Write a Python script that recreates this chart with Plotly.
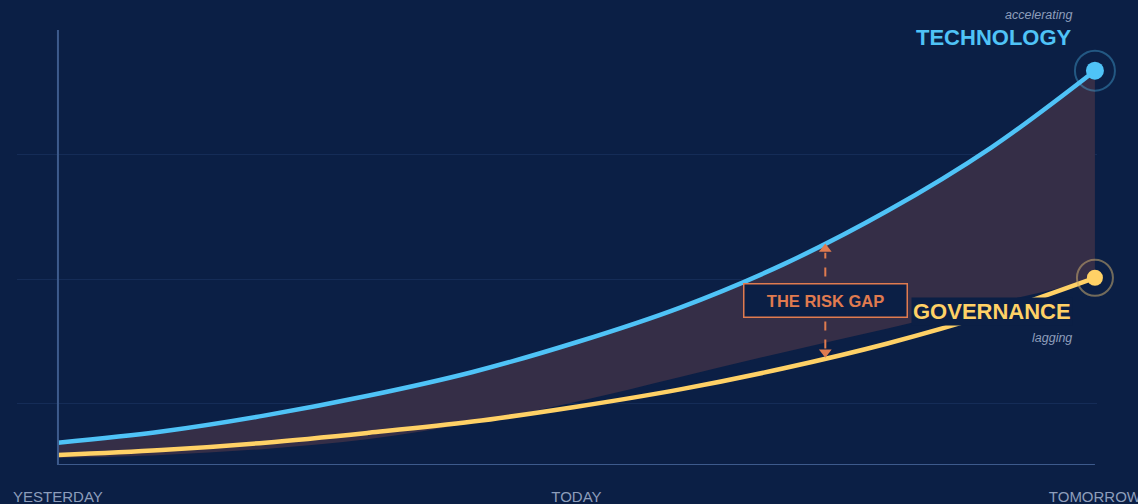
import numpy as np
import plotly.graph_objects as go

# ---- data ----
x_steps = [0, 1, 2, 3, 4, 5, 6, 7, 8, 9, 10]
technology = [1.8, 2.7, 4.0, 5.6, 7.5, 9.9, 12.7, 16.2, 20.5, 25.6, 31.8]
governance = [0.8, 1.2, 1.8, 2.6, 3.5, 4.7, 6.1, 7.8, 9.8, 12.2, 15.1]
gap_lower = [0.56, 0.8, 1.3, 2.1, 3.4, 5.1, 7.1, 9.1, 11.0, 13.0, 14.9]
tick_vals = [0, 5, 10]
tick_text = ["YESTERDAY", "TODAY", "TOMORROW"]
grid_vals = [5, 15, 25, 35]
gap_x = 7.4

BG = "#0b1f45"
BLUE = "#4fc3f7"
YELLOW = "#ffd166"
ORANGE = "#e07b4f"
MUTED = "#8d9dbb"
FONT = "Liberation Sans, Arial, sans-serif"

fig = go.Figure()

# fill band (risk gap)
fig.add_trace(go.Scatter(x=x_steps, y=gap_lower, mode="lines", line=dict(width=0, shape="spline"),
                         hoverinfo="skip", showlegend=False))
fig.add_trace(go.Scatter(x=x_steps, y=technology, mode="lines", line=dict(width=0, shape="spline"),
                         fill="tonexty", fillcolor="#352e47", hoverinfo="skip", showlegend=False))

# lines
fig.add_trace(go.Scatter(x=x_steps, y=governance, mode="lines",
                         line=dict(color=YELLOW, width=4.5, shape="spline"), showlegend=False))
fig.add_trace(go.Scatter(x=x_steps, y=technology, mode="lines",
                         line=dict(color=BLUE, width=4.5, shape="spline"), showlegend=False))

# end markers (rings + dots)
fig.add_trace(go.Scatter(x=[x_steps[-1]], y=[technology[-1]], mode="markers", cliponaxis=False,
                         marker=dict(size=40, color="rgba(0,0,0,0)",
                                     line=dict(color="rgba(79,195,247,0.35)", width=2)),
                         showlegend=False))
fig.add_trace(go.Scatter(x=[x_steps[-1]], y=[technology[-1]], mode="markers", cliponaxis=False,
                         marker=dict(size=18, color=BLUE, line=dict(width=0)), showlegend=False))
fig.add_trace(go.Scatter(x=[x_steps[-1]], y=[governance[-1]], mode="markers", cliponaxis=False,
                         marker=dict(size=36, color="rgba(0,0,0,0)",
                                     line=dict(color="rgba(200,170,110,0.55)", width=2)),
                         showlegend=False))
fig.add_trace(go.Scatter(x=[x_steps[-1]], y=[governance[-1]], mode="markers", cliponaxis=False,
                         marker=dict(size=16, color=YELLOW, line=dict(width=0)), showlegend=False))

# risk gap arrow derived from the series
top_y = float(np.interp(gap_x, x_steps, technology))
bot_y = float(np.interp(gap_x, x_steps, governance))
fig.add_shape(type="line", x0=gap_x, x1=gap_x, y0=bot_y + 0.8, y1=top_y - 0.8,
              line=dict(color=ORANGE, width=2, dash="dash"))
fig.add_trace(go.Scatter(x=[gap_x], y=[top_y - 0.5], mode="markers",
                         marker=dict(symbol="triangle-up", size=11, color=ORANGE), showlegend=False))
fig.add_trace(go.Scatter(x=[gap_x], y=[bot_y + 0.5], mode="markers",
                         marker=dict(symbol="triangle-down", size=11, color=ORANGE), showlegend=False))

# axis lines
fig.add_shape(type="line", x0=0, x1=0, y0=0, y1=1, xref="x", yref="paper",
              line=dict(color="#3d5a8c", width=2))
fig.add_shape(type="line", x0=0, x1=10, y0=0, y1=0, xref="x", yref="y",
              line=dict(color="#3d5a8c", width=2))

# labels
fig.add_annotation(x=9.80, y=1.034, xref="x", yref="paper", text="<i>accelerating</i>",
                   showarrow=False, xanchor="right", yanchor="middle",
                   font=dict(family=FONT, size=12.5, color=MUTED))
fig.add_annotation(x=9.80, y=34.5, text="<b>TECHNOLOGY</b>", showarrow=False, xanchor="right",
                   font=dict(family=FONT, size=22, color=BLUE))
fig.add_annotation(x=9.79, y=12.34, text="<b>GOVERNANCE</b>", showarrow=False, xanchor="right",
                   font=dict(family=FONT, size=22, color=YELLOW), bgcolor=BG, borderpad=1)
fig.add_annotation(x=9.80, y=10.24, text="<i>lagging</i>", showarrow=False, xanchor="right",
                   font=dict(family=FONT, size=12.5, color=MUTED))
fig.add_annotation(x=gap_x, y=13.3, text="<b>THE RISK GAP</b>", showarrow=False,
                   font=dict(family=FONT, size=16.5, color=ORANGE),
                   bgcolor=BG, bordercolor=ORANGE, borderwidth=1.5, borderpad=7,
                   width=148, height=18)

fig.update_layout(
    width=1138, height=504,
    margin=dict(l=17, r=41, t=30, b=39),
    paper_bgcolor=BG, plot_bgcolor=BG,
    showlegend=False,
    xaxis=dict(range=[-0.395, 10.02], tickvals=tick_vals, ticktext=tick_text,
               showgrid=False, zeroline=False, showline=False, ticks="", automargin=False,
               ticklabeloverflow="allow",
               tickfont=dict(family=FONT, size=15, color=MUTED), ticklabelstandoff=21),
    yaxis=dict(range=[0, 35.08], tickvals=grid_vals, showticklabels=False, automargin=False,
               showgrid=True, gridcolor="rgba(40,70,120,0.35)", gridwidth=1,
               zeroline=False, showline=False, ticks=""),
)

fig.write_html("out.html")
